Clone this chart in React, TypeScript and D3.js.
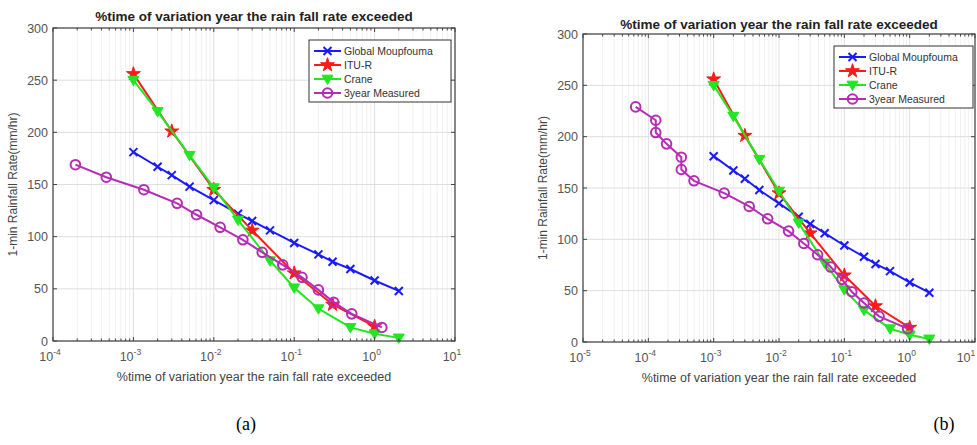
import React, { useRef, useEffect } from "react";
import * as d3 from "d3";

// % time exceeded (x) and 1-min rain rate mm/hr (y)
const globalX = [0.001, 0.002, 0.003, 0.005, 0.01, 0.02, 0.03, 0.05, 0.1, 0.2, 0.3, 0.5, 1, 2];
const globalRate = [181, 167, 159, 148, 135, 122, 115, 106, 94, 83, 76, 69, 58, 48];
const ituX = [0.001, 0.003, 0.01, 0.03, 0.1, 0.3, 1];
const ituRate = [256, 201, 145, 106, 65, 35, 14];
const craneX = [0.001, 0.002, 0.005, 0.01, 0.02, 0.05, 0.1, 0.2, 0.5, 1, 2];
const craneRate = [250, 220, 178, 147, 116, 77, 51, 31, 13, 7, 3];
const measuredAX = [1.9e-4, 4.6e-4, 1.35e-3, 3.5e-3, 6.1e-3, 0.012, 0.023, 0.04, 0.072, 0.125, 0.2, 0.31, 0.52, 1.23];
const measuredARate = [169, 157, 145, 132, 121, 109, 97, 85, 73, 61, 49, 37, 26, 13];
const measuredBX = [6.4e-5, 1.3e-4, 1.3e-4, 1.9e-4, 3.2e-4, 3.2e-4, 5e-4, 1.45e-3, 3.5e-3, 6.7e-3, 0.014, 0.024, 0.039, 0.062, 0.092, 0.13, 0.2, 0.34, 0.93];
const measuredBRate = [229, 216, 204, 193, 180, 168, 157, 145, 132, 120, 108, 96, 85, 73, 61, 49, 38, 25, 13];

const seriesNames = ["Global Moupfouma", "ITU-R", "Crane", "3year Measured"];
const yTicks = [0, 50, 100, 150, 200, 250, 300];
const titleText = "%time of variation year the rain fall rate exceeded";
const xLabelText = "%time of variation year the rain fall rate exceeded";
const yLabelText = "1-min Rainfall Rate(mm/hr)";

const colors = ["#1a1aff", "#ff1a1a", "#22e622", "#b42db4"];
const markers = ["x", "star", "tri", "circle"];

const panels = [
  { left: 53, right: 455, top: 28, bottom: 341, xmin: 1e-4, xmax: 10, mx: measuredAX, my: measuredARate,
    tag: "(a)", tagX: 246, titleY: 21, legX: 309, legY: 40, legW: 142 },
  { left: 583, right: 975, top: 34, bottom: 342, xmin: 1e-5, xmax: 10, mx: measuredBX, my: measuredBRate,
    tag: "(b)", tagX: 944, titleY: 29, legX: 834, legY: 46, legW: 139 },
];

const font = "Liberation Sans, Arial, sans-serif";

function drawMarker(g, kind, x, y, color) {
  if (kind === "x") {
    const s = 4;
    g.append("path").attr("d", `M${x - s},${y - s}L${x + s},${y + s}M${x - s},${y + s}L${x + s},${y - s}`)
      .attr("stroke", color).attr("stroke-width", 2).attr("fill", "none");
  } else if (kind === "star") {
    g.append("path").attr("d", d3.symbol(d3.symbolStar, 60)())
      .attr("transform", `translate(${x},${y})`).attr("fill", color).attr("stroke", color).attr("stroke-width", 1);
  } else if (kind === "tri") {
    const s = 5.5;
    g.append("path").attr("d", `M${x - s},${y - s * 0.7}L${x + s},${y - s * 0.7}L${x},${y + s}Z`)
      .attr("fill", color).attr("stroke", color).attr("stroke-width", 1);
  } else {
    g.append("circle").attr("cx", x).attr("cy", y).attr("r", 4.8)
      .attr("fill", "none").attr("stroke", color).attr("stroke-width", 2);
  }
}

const App = () => {
  const ref = useRef(null);

  useEffect(() => {
    const svg = d3.select(ref.current);
    svg.selectAll("*").remove();

    panels.forEach((p) => {
      const x = d3.scaleLog().domain([p.xmin, p.xmax]).range([p.left, p.right]);
      const y = d3.scaleLinear().domain([0, 300]).range([p.bottom, p.top]);
      const g = svg.append("g");

      g.append("rect").attr("x", p.left).attr("y", p.top).attr("width", p.right - p.left)
        .attr("height", p.bottom - p.top).attr("fill", "#fff");

      // grid
      const decades = d3.range(Math.round(Math.log10(p.xmin)), Math.round(Math.log10(p.xmax)) + 1);
      const minors = [];
      decades.slice(0, -1).forEach((e) => {
        for (let k = 2; k <= 9; k++) minors.push(k * Math.pow(10, e));
      });
      g.selectAll(".minor").data(minors).join("line")
        .attr("x1", (d) => x(d)).attr("x2", (d) => x(d)).attr("y1", p.top).attr("y2", p.bottom)
        .attr("stroke", "#f0f0f0").attr("stroke-width", 1);
      g.selectAll(".majx").data(decades).join("line")
        .attr("x1", (d) => x(Math.pow(10, d))).attr("x2", (d) => x(Math.pow(10, d)))
        .attr("y1", p.top).attr("y2", p.bottom).attr("stroke", "#dedede");
      g.selectAll(".majy").data(yTicks).join("line")
        .attr("x1", p.left).attr("x2", p.right).attr("y1", (d) => y(d)).attr("y2", (d) => y(d))
        .attr("stroke", "#dedede");

      // series
      const sets = [
        [globalX, globalRate],
        [ituX, ituRate],
        [craneX, craneRate],
        [p.mx, p.my],
      ];
      const line = d3.line().x((d) => x(d[0])).y((d) => y(d[1]));
      sets.forEach(([xs, ys], i) => {
        const pts = xs.map((v, j) => [v, ys[j]]);
        g.append("path").attr("d", line(pts)).attr("fill", "none")
          .attr("stroke", colors[i]).attr("stroke-width", 2);
        pts.forEach((d) => drawMarker(g, markers[i], x(d[0]), y(d[1]), colors[i]));
      });

      // frame + ticks
      const axisColor = "#444";
      g.append("rect").attr("x", p.left).attr("y", p.top).attr("width", p.right - p.left)
        .attr("height", p.bottom - p.top).attr("fill", "none").attr("stroke", axisColor).attr("stroke-width", 1.2);
      const tk = (x1, y1, x2, y2) => g.append("line").attr("x1", x1).attr("y1", y1).attr("x2", x2).attr("y2", y2)
        .attr("stroke", axisColor).attr("stroke-width", 1);
      decades.forEach((d) => {
        const px = x(Math.pow(10, d));
        tk(px, p.bottom, px, p.bottom - 4);
        tk(px, p.top, px, p.top + 4);
      });
      minors.forEach((d) => {
        tk(x(d), p.bottom, x(d), p.bottom - 2.5);
        tk(x(d), p.top, x(d), p.top + 2.5);
      });
      yTicks.forEach((d) => {
        tk(p.left, y(d), p.left + 4, y(d));
        tk(p.right, y(d), p.right - 4, y(d));
      });

      // tick labels
      yTicks.forEach((d) => {
        g.append("text").attr("x", p.left - 5).attr("y", y(d) + 4.5).attr("text-anchor", "end")
          .attr("font-family", font).attr("font-size", 12.5).attr("fill", "#555").text(d);
      });
      decades.forEach((d) => {
        const px = Math.min(x(Math.pow(10, d)) - 3, 966);
        const t = g.append("text").attr("x", px).attr("y", p.bottom + 20)
          .attr("text-anchor", "middle").attr("font-family", font).attr("font-size", 12.5).attr("fill", "#555");
        t.append("tspan").text("10");
        t.append("tspan").attr("dy", -6).attr("font-size", 8.5).text(d);
      });

      // titles
      const cx = (p.left + p.right) / 2;
      g.append("text").attr("x", cx).attr("y", p.titleY).attr("text-anchor", "middle")
        .attr("font-family", font).attr("font-size", 13.5).attr("font-weight", "bold").attr("fill", "#222")
        .text(titleText);
      g.append("text").attr("x", cx).attr("y", p.bottom + 40).attr("text-anchor", "middle")
        .attr("font-family", font).attr("font-size", 12.5).attr("fill", "#444").text(xLabelText);
      const cy = (p.top + p.bottom) / 2;
      g.append("text").attr("transform", `translate(${p.left - 36},${cy}) rotate(-90)`).attr("text-anchor", "middle")
        .attr("font-family", font).attr("font-size", 12).attr("fill", "#444").text(yLabelText);

      // legend
      const lg = g.append("g");
      lg.append("rect").attr("x", p.legX).attr("y", p.legY).attr("width", p.legW).attr("height", 62)
        .attr("fill", "#fff").attr("stroke", "#333").attr("stroke-width", 1);
      seriesNames.forEach((name, i) => {
        const ly = p.legY + 11 + i * 14;
        lg.append("line").attr("x1", p.legX + 5).attr("x2", p.legX + 32).attr("y1", ly).attr("y2", ly)
          .attr("stroke", colors[i]).attr("stroke-width", 2);
        drawMarker(lg, markers[i], p.legX + 18.5, ly, colors[i]);
        lg.append("text").attr("x", p.legX + 35).attr("y", ly + 4).attr("font-family", font)
          .attr("font-size", 10.5).attr("fill", "#333").text(name);
      });

      svg.append("text").attr("x", p.tagX).attr("y", 430).attr("text-anchor", "middle")
        .attr("font-family", "Liberation Serif, Times New Roman, serif").attr("font-size", 18).attr("fill", "#000")
        .text(p.tag);
    });
  }, []);

  return (
    <div style={{ position: "absolute", left: 0, top: 0 }}>
      <svg ref={ref} width={977} height={445} style={{ display: "block", background: "#fff" }}></svg>
    </div>
  );
};

export default App;
